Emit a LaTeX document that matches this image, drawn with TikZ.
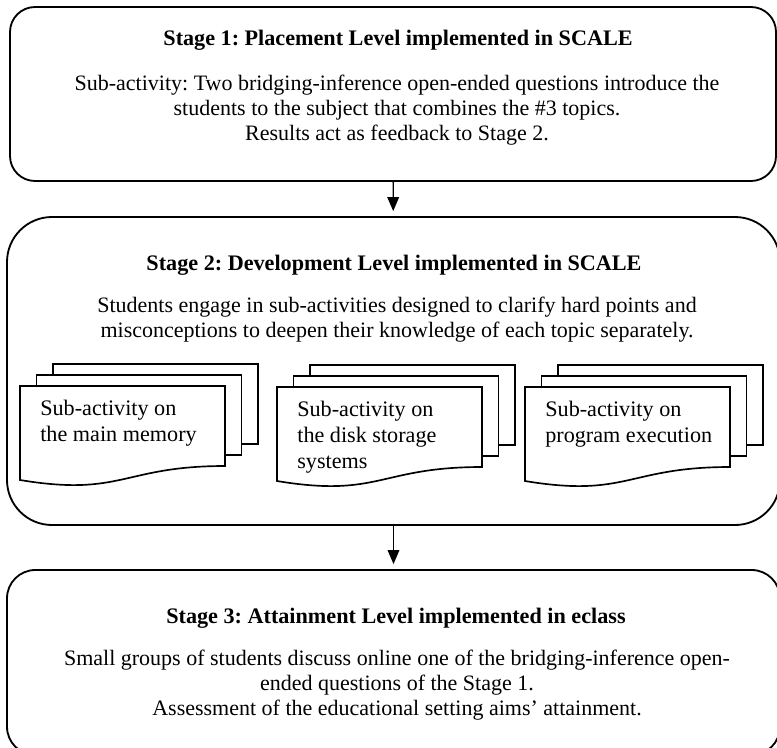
\documentclass[tikz,border=0pt]{standalone}
\usepackage{fontspec}
\setmainfont{Liberation Serif}
\frenchspacing
\usetikzlibrary{positioning,arrows.meta}
\tikzset{
  flow/.style={-{Triangle[length=8.4pt,width=7pt]},line width=0.8pt,shorten >=3pt},
  stagebox/.style={draw,line width=1.1pt,inner sep=0pt},
  stagetitle/.style={font=\fontsize{13.3}{15}\selectfont\bfseries,inner sep=0pt},
  stagetext/.style={font=\fontsize{13.2}{15}\selectfont,align=center,inner sep=0pt},
  page/.style={draw,fill=white,line width=1pt},
  pagetext/.style={font=\fontsize{13.3}{15.6}\selectfont,align=left,inner sep=0pt,anchor=north west}
}
\newcommand{\pagestack}[4]{%
  \foreach \k in {2,1}
    \draw[page] (#2+16.5*\k,#3-11*\k) rectangle ++(205,80);
  \draw[page] (#2,#3) -- ++(205,0) -- ++(0,80)
    .. controls +(-102.5,0) and +(102.5,17) .. ++(-205,14) -- cycle;
  \node[pagetext] (#1) at (#2+20,#3+14) {#4};
}

\begin{document}
\begin{tikzpicture}[x=0.6pt,y=-0.6pt]
  \useasboundingbox (0,0) rectangle (777,747);
  \node[stagebox,rounded corners=15pt,minimum width=459.6pt,minimum height=104.4pt] (stage1) at (393,94) {};
  \node[stagebox,rounded corners=27pt,minimum width=463.8pt,minimum height=184.8pt] (stage2) at (393.5,371) {};
  \node[stagebox,rounded corners=17pt,minimum width=463.8pt,minimum height=111pt] (stage3) at (393.5,662.5) {};

  \node[stagetitle] (title1) at (398,40) {Stage 1: Placement Level implemented in SCALE};
  \node[stagetext] (text1) at (397,110) {%
    Sub-activity: Two bridging-inference open-ended questions introduce the\\
    students to the subject that combines the \#3 topics.\\
    Results act as feedback to Stage 2.};

  \node[stagetitle] (title2) at (394,265) {Stage 2: Development Level implemented in SCALE};
  \node[stagetext] (text2) at (397,320) {%
    Students engage in sub-activities designed to clarify hard points and\\
    misconceptions to deepen their knowledge of each topic separately.};

  \pagestack{memory}{20}{386}{Sub-activity on\\the main memory}
  \pagestack{disk}{277}{387}{Sub-activity on\\the disk storage\\systems}
  \pagestack{program}{525}{387}{Sub-activity on\\program execution}

  \node[stagetitle] (title3) at (396,618) {Stage 3: Attainment Level implemented in eclass};
  \node[stagetext] (text3) at (397,685) {%
    Small groups of students discuss online one of the bridging-inference open-\\
    ended questions of the Stage 1.\\
    Assessment of the educational setting aims' attainment.};

  \draw[flow] (stage1) -- (stage2);
  \draw[flow] (stage2) -- (stage3);
\end{tikzpicture}
\end{document}
